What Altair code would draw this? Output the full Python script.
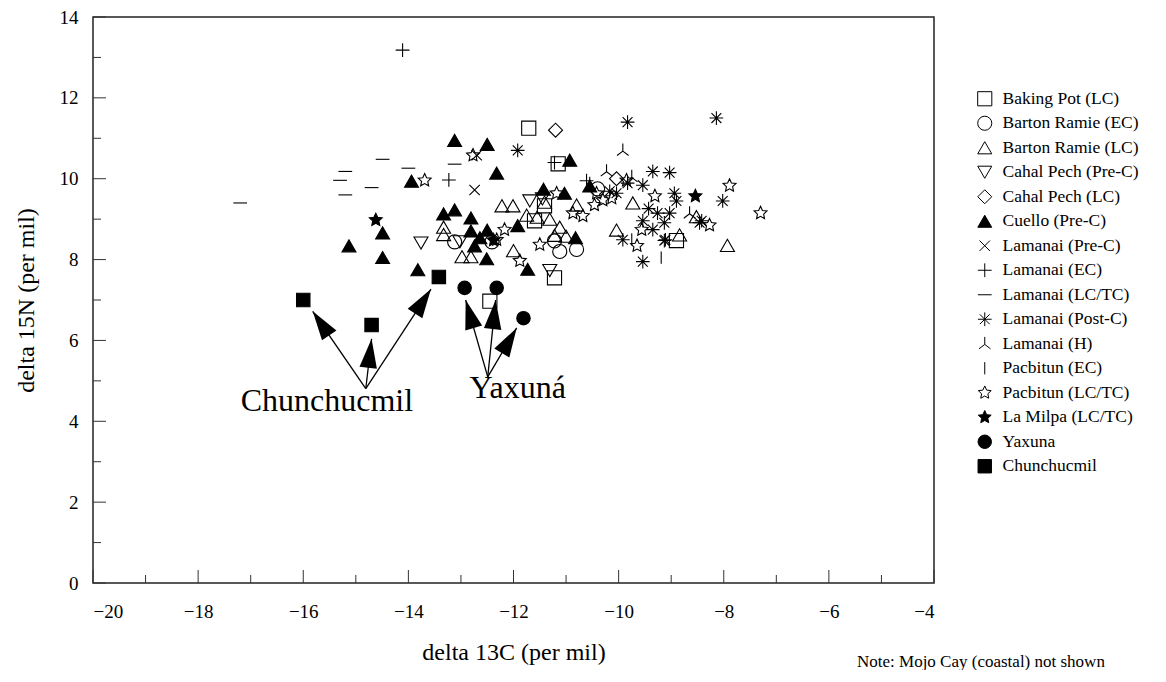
import altair as alt
import pandas as pd
import numpy as np

# ---------------- data ----------------
series = ["Baking Pot (LC)", "Barton Ramie (EC)", "Barton Ramie (LC)", "Cahal Pech (Pre-C)",
          "Cahal Pech (LC)", "Cuello (Pre-C)", "Lamanai (Pre-C)", "Lamanai (EC)",
          "Lamanai (LC/TC)", "Lamanai (Post-C)", "Lamanai (H)", "Pacbitun (EC)",
          "Pacbitun (LC/TC)", "La Milpa (LC/TC)", "Yaxuna", "Chunchucmil"]

baking_x = [-11.71, -11.15, -11.6, -11.41, -11.22, -12.45, -8.9]
baking_y = [11.25, 10.37, 8.96, 9.33, 7.55, 6.97, 8.47]

barton_ec_x = [-13.12, -12.41, -11.22, -11.12, -10.8, -10.4]
barton_ec_y = [8.44, 8.44, 8.46, 8.2, 8.25, 9.75]

barton_lc_x = [-12.22, -12.01, -11.41, -11.31, -11.75, -10.8, -11.12, -11.22, -11.0, -12.0,
               -10.04, -9.73, -13.33, -13.33, -12.98, -12.81, -8.84, -7.93, -8.52, -11.55]
barton_lc_y = [9.33, 9.33, 9.42, 9.0, 9.1, 9.35, 8.8, 8.6, 8.58, 8.22,
               8.73, 9.4, 8.8, 8.62, 8.07, 8.07, 8.61, 8.35, 9.06, 9.05]

cahal_pre_x = [-13.76, -13.02, -11.69, -11.45, -11.31]
cahal_pre_y = [8.41, 8.44, 9.45, 9.5, 7.73]

cahal_lc_x = [-11.2, -10.04]
cahal_lc_y = [11.2, 10.0]

cuello_x = [-13.12, -13.94, -12.32, -12.5, -13.33, -13.12, -12.81, -12.81, -12.5, -12.64,
            -12.74, -12.51, -13.82, -14.49, -14.49, -15.13, -11.43, -11.03, -10.55, -10.93,
            -11.92, -11.73, -10.82]
cuello_y = [10.95, 9.94, 10.14, 10.85, 9.13, 9.23, 9.03, 8.71, 8.73, 8.54,
            8.34, 8.02, 7.75, 8.66, 8.05, 8.34, 9.74, 9.64, 9.82, 10.46,
            8.84, 7.76, 8.54]

lam_pre_x = [-12.74, -12.7]
lam_pre_y = [9.72, 10.58]

lam_ec_x = [-14.11, -13.23, -11.22, -10.61]
lam_ec_y = [13.18, 9.97, 10.4, 9.95]

lam_lctc_x = [-17.2, -15.2, -15.3, -15.2, -14.49, -14.0, -14.7, -13.12]
lam_lctc_y = [9.4, 10.18, 9.96, 9.6, 10.48, 10.26, 9.78, 10.36]

lam_post_x = [-11.92, -9.83, -8.14, -8.02, -8.42, -9.03, -8.94, -9.11, -9.35, -9.54,
              -9.43, -9.26, -9.03, -8.9, -9.54, -9.35, -9.13, -9.13, -9.92, -9.54,
              -8.46, -10.04, -10.17, -9.83]
lam_post_y = [10.7, 11.4, 11.5, 9.45, 8.96, 10.15, 9.64, 8.49, 10.18, 9.84,
              9.26, 9.15, 9.15, 9.45, 8.96, 8.74, 8.91, 8.47, 8.49, 7.95,
              8.91, 9.64, 9.69, 9.89]

lam_h_x = [-9.92, -10.23, -8.65, -9.75]
lam_h_y = [10.7, 10.19, 9.15, 10.05]

pac_ec_x = [-9.19, -9.75, -10.55]
pac_ec_y = [8.05, 8.5, 9.9]

pac_lctc_x = [-13.69, -12.77, -11.18, -11.5, -11.88, -12.17, -12.32, -10.87, -10.68, -10.46,
              -10.42, -10.3, -9.85, -9.56, -9.31, -9.65, -10.13, -7.89, -7.3, -8.27]
pac_lctc_y = [9.96, 10.58, 9.64, 8.37, 7.97, 8.74, 8.49, 9.15, 9.08, 9.35,
              9.64, 9.47, 9.96, 8.74, 9.57, 8.34, 9.52, 9.83, 9.15, 8.85]

milpa_x = [-14.62, -12.38, -8.54]
milpa_y = [8.98, 8.48, 9.57]

yaxuna_x = [-12.93, -12.32, -11.81]
yaxuna_y = [7.3, 7.3, 6.55]

chun_x = [-16.0, -14.7, -13.42]
chun_y = [7.0, 6.38, 7.57]

# annotation labels and arrows
label_text = ["Chunchucmil", "Yaxuná"]
label_x = [-15.55, -11.92]
label_y = [4.5, 4.82]

arrow_x0 = [-14.81, -14.81, -14.81, -12.49, -12.49, -12.49]
arrow_y0 = [4.81, 4.81, 4.81, 5.1, 5.1, 5.1]
arrow_x1 = [-15.82, -14.70, -13.57, -12.91, -12.34, -11.94]
arrow_y1 = [6.72, 6.04, 7.27, 7.0, 7.0, 6.31]

x_major = [-20, -18, -16, -14, -12, -10, -8, -6, -4]
x_minor = [-19, -17, -15, -13, -11, -9, -7, -5]
y_major = [0, 2, 4, 6, 8, 10, 12, 14]
y_minor = [1, 3, 5, 7, 9, 11, 13]

note_text = ["Note: Mojo Cay (coastal) not shown"]

# ---------------- build tables ----------------
all_x = [baking_x, barton_ec_x, barton_lc_x, cahal_pre_x, cahal_lc_x, cuello_x, lam_pre_x,
         lam_ec_x, lam_lctc_x, lam_post_x, lam_h_x, pac_ec_x, pac_lctc_x, milpa_x, yaxuna_x, chun_x]
all_y = [baking_y, barton_ec_y, barton_lc_y, cahal_pre_y, cahal_lc_y, cuello_y, lam_pre_y,
         lam_ec_y, lam_lctc_y, lam_post_y, lam_h_y, pac_ec_y, pac_lctc_y, milpa_y, yaxuna_y, chun_y]
rows = []
for name, xs, ys in zip(series, all_x, all_y):
    for a, b in zip(xs, ys):
        rows.append({"series": name, "x": a, "y": b})
df = pd.DataFrame(rows)

W, H = 841, 566
XD, YD = [-20, -4], [0, 14]

def star_path(ro=1.0, ri=0.48):
    pts = []
    for i in range(10):
        r = ro if i % 2 == 0 else ri
        a = np.deg2rad(-90 + 36 * i)
        pts.append(f"{r*np.cos(a):.3f},{r*np.sin(a):.3f}")
    return "M" + "L".join(pts) + "Z"

STAR = star_path()
shapes = [
    "square", "circle", "triangle-up", "triangle-down", "diamond", "triangle-up",
    "M-0.75,-0.75L0.75,0.75M-0.75,0.75L0.75,-0.75",
    "M-1,0L1,0M0,-1L0,1",
    "M-1,0L1,0",
    "M-1,0L1,0M0,-1L0,1M-0.72,-0.72L0.72,0.72M-0.72,0.72L0.72,-0.72",
    "M0,-1L0,0.1M0,0.1L-0.85,0.75M0,0.1L0.85,0.75",
    "M0,-0.9L0,0.9",
    STAR, STAR, "circle", "square",
]
fills = ["transparent"] * 5 + ["black"] + ["transparent"] * 7 + ["black", "black", "black"]
strokes = ["black"] * 16
sizes = [200, 180, 190, 175, 150, 190, 170, 190, 190, 230, 190, 150, 200, 210, 300, 300]

serif = "Liberation Serif"

xscale = alt.Scale(domain=XD, nice=False, zero=False)
yscale = alt.Scale(domain=YD, nice=False, zero=False)

legend = alt.Legend(title=None, orient="none", legendX=883, legendY=73, padding=0,
                    labelFont=serif, labelFontSize=17.5, labelColor="black",
                    rowPadding=5.5, labelOffset=9, symbolStrokeWidth=1)

points = alt.Chart(df).mark_point(strokeWidth=1.1, opacity=1).encode(
    x=alt.X("x:Q", scale=xscale,
            axis=alt.Axis(values=x_major, ticks=False, domain=False, grid=False,
                          labelFont=serif, labelFontSize=19, labelColor="black", labelPadding=19,
                          title="delta 13C (per mil)", titleFont=serif, titleFontSize=24,
                          titleFontWeight="normal", titleColor="black", titlePadding=19)),
    y=alt.Y("y:Q", scale=yscale,
            axis=alt.Axis(values=y_major, ticks=False, domain=False, grid=False,
                          labelFont=serif, labelFontSize=19, labelColor="black", labelPadding=15,
                          title="delta 15N (per mil)", titleFont=serif, titleFontSize=24,
                          titleFontWeight="normal", titleColor="black", titlePadding=21)),
    shape=alt.Shape("series:N", scale=alt.Scale(domain=series, range=shapes), legend=legend),
    fill=alt.Fill("series:N", scale=alt.Scale(domain=series, range=fills), legend=legend),
    stroke=alt.Stroke("series:N", scale=alt.Scale(domain=series, range=strokes), legend=legend),
    size=alt.Size("series:N", scale=alt.Scale(domain=series, range=sizes), legend=legend),
)

# arrows
adf = pd.DataFrame({"x0": arrow_x0, "y0": arrow_y0, "x1": arrow_x1, "y1": arrow_y1})
sx, sy = W / (XD[1] - XD[0]), H / (YD[1] - YD[0])
dxp = (adf["x1"] - adf["x0"]) * sx
dyp = -(adf["y1"] - adf["y0"]) * sy
adf["angle"] = (np.degrees(np.arctan2(dxp, -dyp)) + 360) % 360

arrow_lines = alt.Chart(adf).mark_rule(color="black", strokeWidth=1.3).encode(
    x=alt.X("x0:Q", scale=xscale), y=alt.Y("y0:Q", scale=yscale),
    x2="x1:Q", y2="y1:Q")
arrow_heads = alt.Chart(adf).mark_point(
    shape="M0,0L0.6,2L-0.6,2Z", filled=True, color="black", size=850, opacity=1,
    strokeWidth=0).encode(
    x=alt.X("x1:Q", scale=xscale), y=alt.Y("y1:Q", scale=yscale),
    angle=alt.Angle("angle:Q", scale=None))

ldf = pd.DataFrame({"t": label_text, "x": label_x, "y": label_y})
labels = alt.Chart(ldf).mark_text(font=serif, fontSize=32, color="black", baseline="middle").encode(
    x=alt.X("x:Q", scale=xscale), y=alt.Y("y:Q", scale=yscale), text="t:N")

# inward ticks
def xticks(vals, L):
    return alt.Chart(pd.DataFrame({"t": vals})).mark_rule(color="#333", strokeWidth=1).encode(
        x=alt.X("t:Q", scale=xscale), y=alt.value(H), y2=alt.value(H - L))

def yticks(vals, L):
    return alt.Chart(pd.DataFrame({"t": vals})).mark_rule(color="#333", strokeWidth=1).encode(
        y=alt.Y("t:Q", scale=yscale), x=alt.value(0), x2=alt.value(L))

note = alt.Chart(pd.DataFrame({"t": note_text})).mark_text(
    font=serif, fontSize=17, color="black", align="left", baseline="middle").encode(
    x=alt.value(764), y=alt.value(645), text="t:N")

chart = alt.layer(
    points, xticks(x_major, 13), xticks(x_minor, 8), yticks(y_major, 13), yticks(y_minor, 8),
    arrow_lines, arrow_heads, labels, note
).properties(
    width=W, height=H,
    background="white",
    autosize=alt.AutoSizeParams(type="none"),
    padding={"left": 85, "top": 9, "right": 222, "bottom": 87},
).configure_view(stroke="#222", strokeWidth=1.5)

chart.save("out.html", embed_options={"renderer": "svg", "actions": False})
